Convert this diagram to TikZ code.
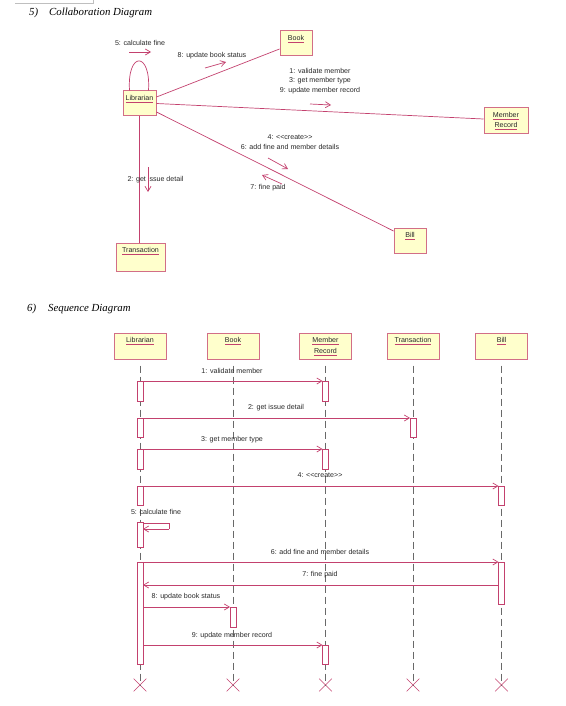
\documentclass[tikz,border=0pt]{standalone}
\usepackage{fontspec}
\setmainfont{Liberation Serif}
\setsansfont{Liberation Sans}
\usetikzlibrary{arrows.meta,calc,shapes.misc}
\definecolor{umlline}{RGB}{195,65,110}
\definecolor{umlbox}{RGB}{210,110,135}
\definecolor{umlfill}{RGB}{255,255,204}
\definecolor{lifegrey}{RGB}{105,105,105}
\definecolor{txt}{RGB}{40,40,40}
\newcommand\uln[1]{{\color{umlline}\underline{\color{txt}#1}}}
\begin{document}
\begin{tikzpicture}[x=1pt,y=-1pt,
  obj/.style={draw=umlbox, fill=umlfill, line width=1pt, inner sep=0pt},
  objlbl/.style={anchor=north, inner sep=0pt, yshift=-4.5pt, font=\sffamily\fontsize{7.1}{10.5}\selectfont, text=txt, align=center},
  msg/.style={font=\sffamily\fontsize{7.1}{9.7}\selectfont, text=txt, inner sep=0pt, align=center},
  link/.style={draw=umlline, line width=0.7pt},
  arr/.style={draw=umlline, line width=0.7pt, -{Straight Barb[length=5pt,width=6pt]}},
  life/.style={draw=lifegrey, line width=0.6pt, dash pattern=on 7pt off 4pt},
  act/.style={draw=umlline, fill=white, line width=0.7pt, minimum width=6pt, inner sep=0pt, outer sep=0pt},
  xm/.style={cross out, draw=umlline, line width=0.6pt, minimum size=12pt, inner sep=0pt},
  title/.style={font=\rmfamily\itshape\fontsize{10.8}{12}\selectfont, inner sep=0pt, anchor=west}
]
\useasboundingbox (0,0) rectangle (565,706);
\draw[black!25, line width=0.5pt] (15,3) -- (93,3) -- (93,0);

% ---------- Collaboration diagram ----------
\node[title] (t5n) at (29,13) {5)};
\node[title] (t5) at (49,13) {Collaboration Diagram};

\node[obj, minimum width=33pt, minimum height=25pt, label={[objlbl]north:\uln{Librarian}}] (lib) at (139.5,103.5) {};
\node[obj, minimum width=32pt, minimum height=25pt, label={[objlbl]north:\uln{Book}}] (book) at (296,43.5) {};
\node[obj, minimum width=44pt, minimum height=25pt, label={[objlbl]north:\uln{Member}\\\uln{Record}}] (mem) at (506,120.5) {};
\node[obj, minimum width=32pt, minimum height=25pt, label={[objlbl]north:\uln{Bill}}] (bill) at (410,240.5) {};
\node[obj, minimum width=49pt, minimum height=28pt, label={[objlbl]north:\uln{Transaction}}] (trans) at (140.5,257) {};

\draw[link] ($(lib.north west)+(7,0)$) .. controls (127,51) and (151,51) .. ($(lib.north east)+(-8,0)$);
\draw[link] ($(lib.east)+(0,-6.5)$) -- ($(book.west)+(0,5.5)$);
\draw[link] (lib.east) -- ($(mem.west)+(0,-1.5)$);
\draw[link] ($(lib.east)+(0,8.5)$) -- ($(bill.west)+(0,-9.5)$);
\draw[link] (lib.south) -- (lib.south |- trans.north);

\node[msg] (c5) at (140,43) {5: calculate fine};
\coordinate (c5a) at (129,52); \coordinate (c5b) at (151,52);
\draw[arr] (c5a) -- (c5b);
\node[msg] (c8) at (212,56) {8: update book status};
\coordinate (c8a) at (205,68); \coordinate (c8b) at (226,62);
\draw[arr] (c8a) -- (c8b);
\node[msg] (c1) at (320,81) {1: validate member\\3: get member type\\9: update member record};
\coordinate (c1a) at (310,104); \coordinate (c1b) at (331,105);
\draw[arr] (c1a) -- (c1b);
\node[msg] (c4) at (290,142) {4: <{}<create>{}>\\6: add fine and member details};
\coordinate (c4a) at (268,158); \coordinate (c4b) at (288,169);
\draw[arr] (c4a) -- (c4b);
\node[msg] (c7) at (268,188) {7: fine paid};
\coordinate (c7a) at (282,184); \coordinate (c7b) at (262,175);
\draw[arr] (c7a) -- (c7b);
\node[msg] (c2) at (155.5,180) {2: get issue detail};
\coordinate (c2a) at (148,167); \coordinate (c2b) at (148,192);
\draw[arr] (c2a) -- (c2b);

% ---------- Sequence diagram ----------
\node[title] (t6n) at (27,309) {6)};
\node[title] (t6) at (48,309) {Sequence Diagram};

\node[obj, minimum width=52pt, minimum height=26pt, label={[objlbl]north:\uln{Librarian}}] (slib) at (140,346) {};
\node[obj, minimum width=52pt, minimum height=26pt, label={[objlbl]north:\uln{Book}}] (sbook) at (233,346) {};
\node[obj, minimum width=52pt, minimum height=26pt, label={[objlbl, font=\sffamily\fontsize{7.1}{11.5}\selectfont]north:\uln{Member}\\\uln{Record}}] (smem) at (325.5,346) {};
\node[obj, minimum width=52pt, minimum height=26pt, label={[objlbl]north:\uln{Transaction}}] (strans) at (413,346) {};
\node[obj, minimum width=52pt, minimum height=26pt, label={[objlbl]north:\uln{Bill}}] (sbill) at (501.5,346) {};

\node[xm] (xlib) at (140,685) {};
\node[xm] (xbook) at (233,685) {};
\node[xm] (xmem) at (325.5,685) {};
\node[xm] (xtrans) at (413,685) {};
\node[xm] (xbill) at (501.5,685) {};

\draw[life] ($(slib.south)+(0,6)$) -- (xlib.center);
\draw[life] ($(sbook.south)+(0,6)$) -- (xbook.center);
\draw[life] ($(smem.south)+(0,6)$) -- (xmem.center);
\draw[life] ($(strans.south)+(0,6)$) -- (xtrans.center);
\draw[life] ($(sbill.south)+(0,6)$) -- (xbill.center);

\node[act, minimum height=20pt] (l1) at (140,391) {};
\node[act, minimum height=20pt] (m1) at (325.5,391) {};
\node[act, minimum height=19pt] (l2) at (140,427.5) {};
\node[act, minimum height=19pt] (t2) at (413,427.5) {};
\node[act, minimum height=20pt] (l3) at (140,459) {};
\node[act, minimum height=20pt] (m3) at (325.5,459) {};
\node[act, minimum height=19pt] (l4) at (140,495.5) {};
\node[act, minimum height=19pt] (b4) at (501.5,495.5) {};
\node[act, minimum height=25pt] (l5) at (140,534.5) {};
\node[act, minimum height=102pt] (l6) at (140,613) {};
\node[act, minimum height=42pt] (b6) at (501.5,583) {};
\node[act, minimum height=20pt] (k8) at (233,617) {};
\node[act, minimum height=19pt] (m9) at (325.5,654.5) {};

\node[msg] (s1) at (232,371) {1: validate member};
\draw[arr] (l1.north east) -- (m1.north west);
\node[msg] (s2) at (276,408) {2: get issue detail};
\draw[arr] (l2.north east) -- (t2.north west);
\node[msg] (s3) at (232,440) {3: get member type};
\draw[arr] (l3.north east) -- (m3.north west);
\node[msg] (s4) at (320,475) {4: <{}<create>{}>};
\draw[arr] (l4.north east) -- (b4.north west);
\node[msg] (s5) at (156,512) {5: calculate fine};
\draw[link] ($(l5.north east)+(0,1)$) -- ++(26,0) -- ++(0,6) coordinate (s5r);
\draw[arr] (s5r) -- ($(l5.north east)+(0,7)$);
\node[msg] (s6) at (320,552) {6: add fine and member details};
\draw[arr] (l6.north east) -- (b6.north west);
\node[msg] (s7) at (320,575) {7: fine paid};
\draw[arr] ($(b6.north west)+(0,23)$) -- ($(l6.north east)+(0,23)$);
\node[msg] (s8) at (186,597) {8: update book status};
\draw[arr] ($(l6.north east)+(0,45)$) -- (k8.north west);
\node[msg] (s9) at (232,636) {9: update member record};
\draw[arr] ($(l6.north east)+(0,83)$) -- (m9.north west);
\end{tikzpicture}
\end{document}
